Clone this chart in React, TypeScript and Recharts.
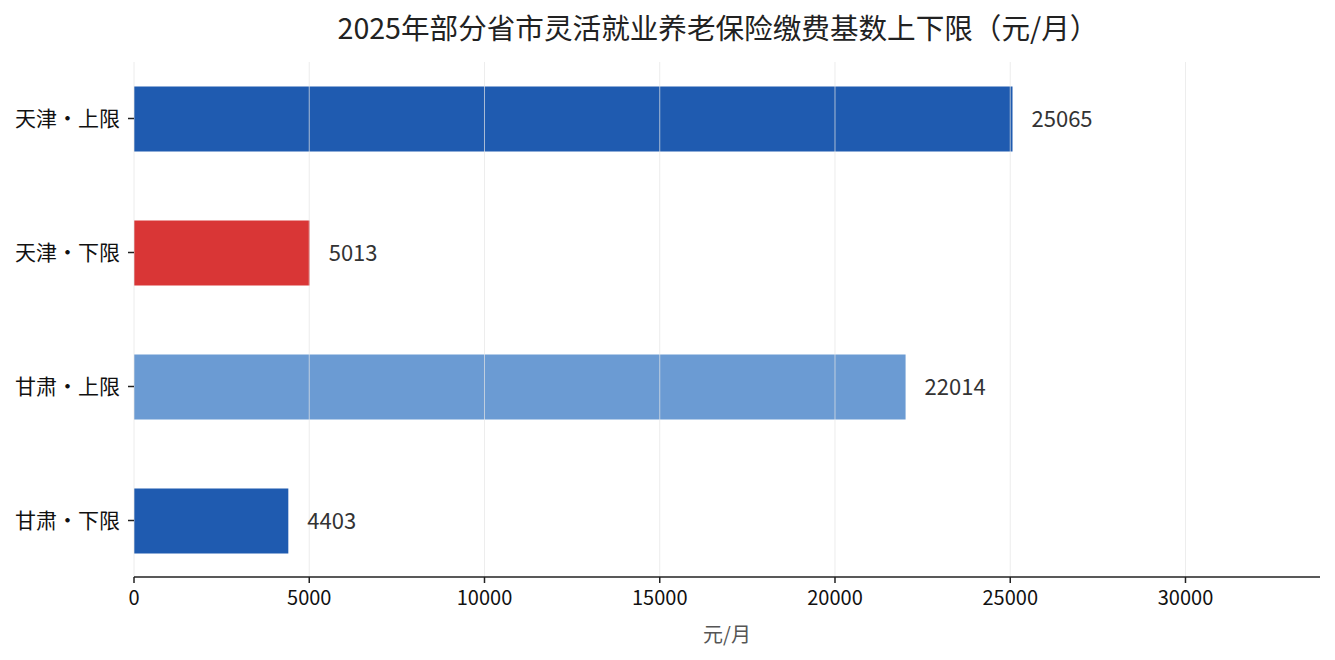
import React from "react";
import {
  BarChart,
  Bar,
  XAxis,
  YAxis,
  Cell,
  LabelList,
  ReferenceLine,
  Label,
} from "recharts";

const categories = ["天津・上限", "天津・下限", "甘肃・上限", "甘肃・下限"];
const values = [25065, 5013, 22014, 4403];
const colors = ["#1f5bb0", "#d93636", "#6b9bd3", "#1f5bb0"];
const xTicks = [0, 5000, 10000, 15000, 20000, 25000, 30000];

const data = categories.map((name, i) => ({ name, value: values[i] }));
const xMax = Math.max(...values) * 1.35;

const FONT = "'Noto Sans CJK SC', 'Noto Sans', sans-serif";

export default function App() {
  return (
    <div
      style={{
        position: "absolute",
        left: 0,
        top: 0,
        width: 1335,
        height: 660,
        background: "#fff",
        fontFamily: FONT,
      }}
    >
      <div
        style={{
          position: "absolute",
          top: 7,
          left: 0,
          width: 1436,
          textAlign: "center",
          fontSize: 28.6,
          color: "#222",
          lineHeight: "40px",
        }}
      >
        2025年部分省市灵活就业养老保险缴费基数上下限（元/月）
      </div>
      <BarChart
        width={1335}
        height={660}
        data={data}
        layout="vertical"
        margin={{ top: 62, right: 15, left: 0, bottom: 0 }}
        style={{ fontFamily: FONT }}
      >
        <XAxis
          type="number"
          domain={[0, xMax]}
          ticks={xTicks}
          height={83}
          tick={{ fill: "#111", fontSize: 20 }}
          tickSize={6}
          tickMargin={8}
          tickLine={{ stroke: "#222", strokeWidth: 1.5 }}
          axisLine={{ stroke: "#222", strokeWidth: 1.5 }}
        >
          <Label
            value="元/月"
            position="insideBottom"
            offset={18}
            style={{ fill: "#555", fontSize: 20 }}
          />
        </XAxis>
        <YAxis
          type="category"
          dataKey="name"
          width={134}
          axisLine={false}
          tickSize={6}
          tickMargin={8}
          tickLine={{ stroke: "#222", strokeWidth: 1.5 }}
          tick={{ fill: "#111", fontSize: 21 }}
          padding={{ top: -10.5, bottom: -10.5 }}
        />
        <Bar dataKey="value" barSize={65} isAnimationActive={false}>
          {data.map((d, i) => (
            <Cell key={d.name} fill={colors[i]} />
          ))}
          <LabelList
            dataKey="value"
            position="right"
            offset={19}
            style={{ fill: "#333", fontSize: 22 }}
          />
        </Bar>
        {xTicks.map((t) => (
          <ReferenceLine
            key={t}
            x={t}
            stroke="#e4e4e4"
            strokeOpacity={0.7}
            strokeWidth={1}
          />
        ))}
      </BarChart>
    </div>
  );
}
